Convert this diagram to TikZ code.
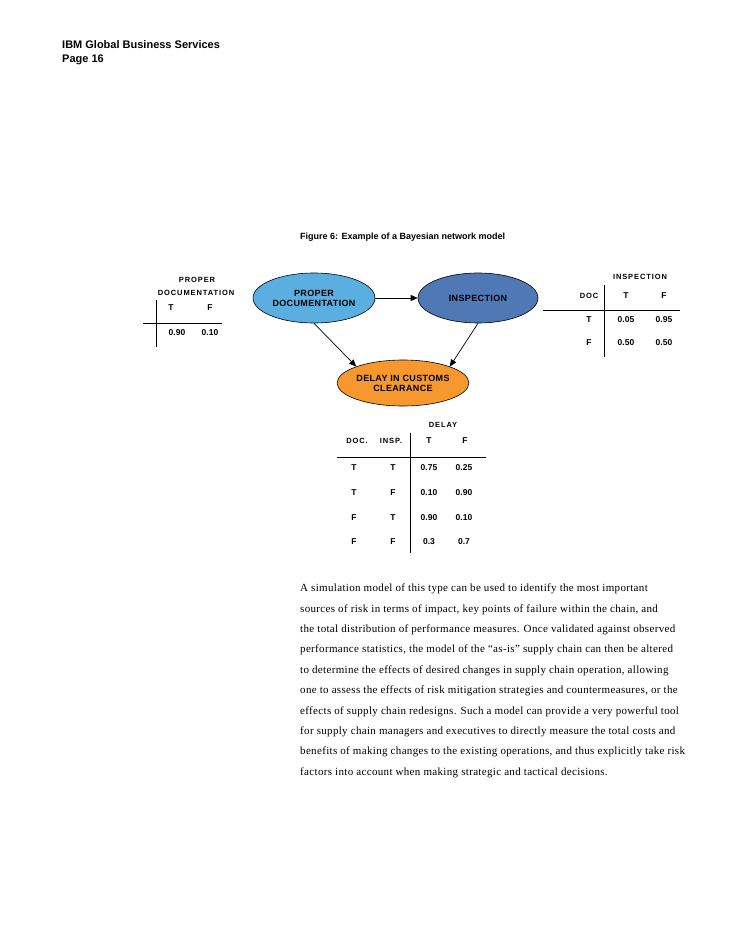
\documentclass[tikz,border=0pt]{standalone}
\usepackage{fontspec}
\setmainfont{Liberation Serif}
\setsansfont{Liberation Sans}
\usetikzlibrary{arrows.meta,shapes.geometric}
\definecolor{lb}{HTML}{5AAEE0}
\definecolor{db}{HTML}{4F78B5}
\definecolor{og}{HTML}{F7982E}
\begin{document}
\begin{tikzpicture}[x=1pt,y=-1pt,
 tt/.style={font=\sffamily\bfseries\fontsize{8.5}{9}\selectfont,inner sep=0pt},
 ts/.style={font=\sffamily\bfseries\fontsize{7.5}{8}\selectfont\addfontfeature{LetterSpace=12},inner sep=0pt},
 ell/.style={ellipse,draw=black,line width=0.6pt,font=\sffamily\bfseries\fontsize{9}{10}\selectfont\addfontfeature{LetterSpace=4},align=center,inner sep=0pt},
 arr/.style={-{Triangle[length=7pt,width=6pt]},line width=0.7pt},
 ln/.style={line width=0.7pt},
 para/.style={anchor=west,font=\fontsize{11}{12}\selectfont\addfontfeature{LetterSpace=3},inner sep=0pt}]
\useasboundingbox (0,0) rectangle (728,942);
\fill[white] (0,0) rectangle (728,942);
\node[anchor=west,font=\sffamily\bfseries\fontsize{11}{12}\selectfont,inner sep=0pt] (h1) at (62,45) {IBM Global Business Services};
\node[anchor=west,font=\sffamily\bfseries\fontsize{11}{12}\selectfont,inner sep=0pt] (h2) at (62,60) {Page 16};
\node[anchor=west,font=\sffamily\bfseries\fontsize{9}{10}\selectfont,inner sep=0pt] (cap) at (300,237) {Figure 6: Example of a Bayesian network model};
% ellipses
\node[ell,fill=lb,minimum width=122pt,minimum height=50pt] (pd) at (314,298) {PROPER\\DOCUMENTATION};
\node[ell,fill=db,minimum width=120pt,minimum height=50pt] (ins) at (478,298) {INSPECTION};
\node[ell,fill=og,minimum width=120pt,minimum height=46pt] (del) at (403,383) {DELAY IN CUSTOMS\\CLEARANCE};
\draw[arr] (pd.east) -- (ins.west);
\draw[arr] (pd.south) coordinate (a1) -- (del.north west);
\draw[arr] (ins.south) coordinate (a2) -- (del.north east);
% left table
\node[ts] (l1) at (197,280) {PROPER};
\node[ts] (l2) at (196,293) {DOCUMENTATION};
\node[tt] (lT) at (171,308) {T};
\node[tt] (lF) at (210,308) {F};
\node[tt] (l3) at (177,333) {0.90};
\node[tt] (l4) at (210,333) {0.10};
\draw[ln] (143,323) coordinate (lh1) -- (222,323) coordinate (lh2);
\draw[ln] (156,300) coordinate (lv1) -- (156,347) coordinate (lv2);
% inspection table
\node[ts] (i0) at (640,277) {INSPECTION};
\node[ts] (i1) at (589,296) {DOC};
\node[tt] (i2) at (626,296) {T};
\node[tt] (i3) at (664,296) {F};
\node[tt] (i4) at (589,320) {T};
\node[tt] (i5) at (626,320) {0.05};
\node[tt] (i6) at (664,320) {0.95};
\node[tt] (i7) at (589,343) {F};
\node[tt] (i8) at (626,343) {0.50};
\node[tt] (i9) at (664,343) {0.50};
\draw[ln] (543,310) coordinate (ih1) -- (680,310) coordinate (ih2);
\draw[ln] (604,285) coordinate (iv1) -- (604,357) coordinate (iv2);
% delay table
\node[ts] (d0) at (443,425) {DELAY};
\node[ts] (d1) at (357,441) {DOC.};
\node[ts] (d2) at (391,441) {INSP.};
\node[tt] (d3) at (429,441) {T};
\node[tt] (d4) at (465,441) {F};
\foreach \y/\a/\b/\c/\d [count=\i] in {468/T/T/0.75/0.25,493/T/F/0.10/0.90,518/F/T/0.90/0.10,542/F/F/0.3/0.7}{
 \node[tt] (r\i a) at (354,\y) {\a};
 \node[tt] (r\i b) at (393,\y) {\b};
 \node[tt] (r\i c) at (429,\y) {\c};
 \node[tt] (r\i d) at (464,\y) {\d};
}
\draw[ln] (337,457) coordinate (dh1) -- (486,457) coordinate (dh2);
\draw[ln] (410,433) coordinate (dv1) -- (410,553) coordinate (dv2);
% paragraph
\foreach \t [count=\i] in {%
{A simulation model of this type can be used to identify the most important},
{sources of risk in terms of impact, key points of failure within the chain, and},
{the total distribution of performance measures. Once validated against observed},
{performance statistics, the model of the “as-is” supply chain can then be altered},
{to determine the effects of desired changes in supply chain operation, allowing},
{one to assess the effects of risk mitigation strategies and countermeasures, or the},
{effects of supply chain redesigns. Such a model can provide a very powerful tool},
{for supply chain managers and executives to directly measure the total costs and},
{benefits of making changes to the existing operations, and thus explicitly take risk},
{factors into account when making strategic and tactical decisions.}}{
 \node[para] (p\i) at (300,{589+(\i-1)*20.4}) {\t};
}
\end{tikzpicture}
\end{document}
